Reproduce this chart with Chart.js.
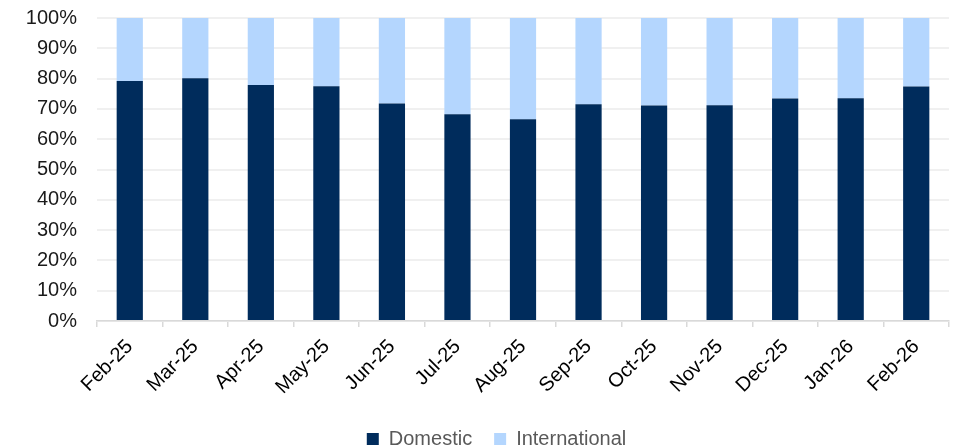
<!DOCTYPE html>
<html>
<head>
<meta charset="utf-8">
<script src="https://cdn.jsdelivr.net/npm/chart.js@4"></script>
<style>
  html, body { margin: 0; padding: 0; background: #fff; }
  #wrap { width: 956px; height: 447px; }
</style>
</head>
<body>
<div id="wrap"><canvas id="mixChart"></canvas></div>
<script>
const months = ['Feb-25', 'Mar-25', 'Apr-25', 'May-25', 'Jun-25', 'Jul-25', 'Aug-25',
                'Sep-25', 'Oct-25', 'Nov-25', 'Dec-25', 'Jan-26', 'Feb-26'];
const domestic = [79.2, 80.1, 77.9, 77.5, 71.8, 68.2, 66.6, 71.5, 71.1, 71.2, 73.4, 73.5, 77.4];
const international = [20.8, 19.9, 22.1, 22.5, 28.2, 31.8, 33.4, 28.5, 28.9, 28.8, 26.6, 26.5, 22.6];
const yTicks = [0, 10, 20, 30, 40, 50, 60, 70, 80, 90, 100];

Chart.defaults.font.family = '"Liberation Sans", Arial, sans-serif';
Chart.defaults.animation = false;

// nudge the legend so it sits where the original one does
const legendShift = {
    id: 'legendShift',
    afterLayout(chart) {
        chart.legend.left += 17;
        chart.legend.right += 17;
    }
};

const ctx = document.getElementById('mixChart').getContext('2d');
new Chart(ctx, {
    type: 'bar',
    data: {
        labels: months,
        datasets: [{
            label: 'Domestic',
            data: domestic,
            backgroundColor: '#002C5C',
            borderWidth: 0,
            categoryPercentage: 1,
            barPercentage: 0.4
        }, {
            label: 'International',
            data: international,
            backgroundColor: '#B4D6FE',
            borderWidth: 0,
            categoryPercentage: 1,
            barPercentage: 0.4
        }]
    },
    plugins: [legendShift],
    options: {
        responsive: true,
        maintainAspectRatio: false,
        layout: {
            padding: { left: 10, right: 7, top: 18, bottom: -12 }
        },
        plugins: {
            legend: {
                position: 'bottom',
                labels: {
                    boxWidth: 12,
                    boxHeight: 12,
                    padding: 22,
                    color: '#595959',
                    font: { size: 20 }
                }
            },
            tooltip: { enabled: false }
        },
        scales: {
            x: {
                stacked: true,
                grid: {
                    display: true,
                    drawOnChartArea: false,
                    drawTicks: true,
                    tickLength: 6,
                    color: '#d9d9d9',
                    lineWidth: 1.5,
                    offset: true
                },
                border: { display: true, color: '#d9d9d9', width: 1.5 },
                ticks: {
                    color: '#000',
                    font: { size: 20 },
                    minRotation: 45,
                    maxRotation: 45,
                    padding: 8
                },
                afterFit: function(axis) { axis.height = 86; }
            },
            y: {
                stacked: true,
                min: 0,
                max: 100,
                afterBuildTicks: function(axis) {
                    axis.ticks = yTicks.map(v => ({ value: v }));
                },
                grid: {
                    color: '#f0f0f0',
                    lineWidth: 2,
                    drawTicks: false
                },
                border: { display: false },
                ticks: {
                    color: '#1a1a1a',
                    font: { size: 20 },
                    padding: 20,
                    callback: function(value) {
                        return value + '%';
                    }
                },
                afterFit: function(axis) {
                    axis.width = 87;
                    axis.paddingTop = 0;
                    axis.paddingBottom = 0;
                }
            }
        }
    }
});
</script>
</body>
</html>
